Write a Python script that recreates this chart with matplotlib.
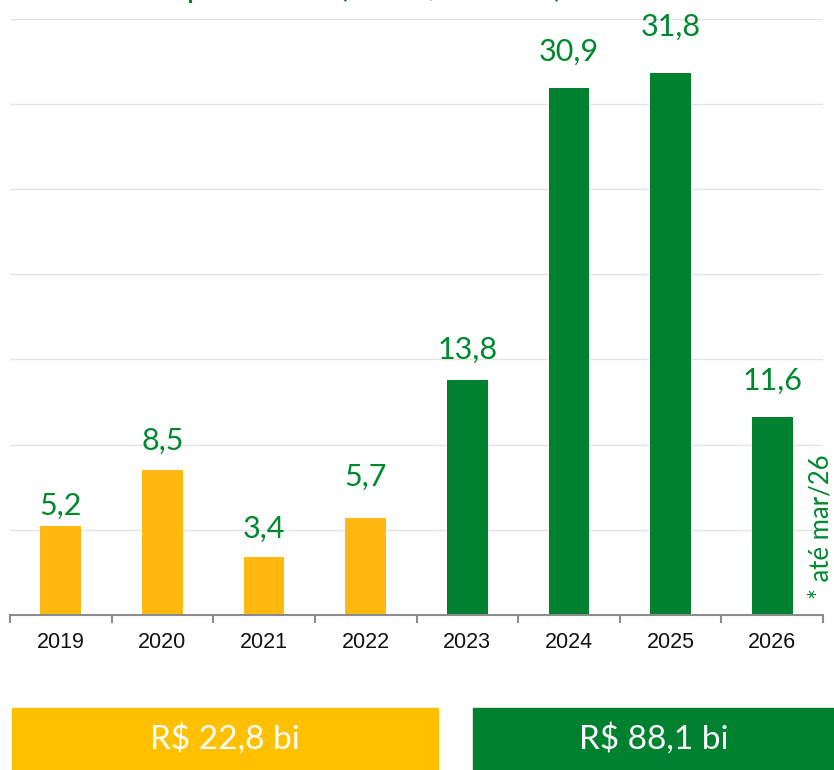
import matplotlib
matplotlib.use("Agg")
import matplotlib.pyplot as plt
from matplotlib.patches import Rectangle
import numpy as np

# ---- data ----
years = ["2019", "2020", "2021", "2022", "2023", "2024", "2025", "2026"]
values = [5.2, 8.5, 3.4, 5.7, 13.8, 30.9, 31.8, 11.6]
period = ["before", "before", "before", "before", "after", "after", "after", "after"]
footnote = "* até mar/26"
title = "Empréstimos (em R$ bilhões)"

# ---- styles ----
YELLOW_BAR = "#FFB80F"
YELLOW_BOX = "#FFC000"
GREEN = "#00812F"
GREEN_TXT = "#00882F"
label_gap_px = [12, 20, 19, 32, 21, 28, 37, 28]

W, H = 834, 770
fig = plt.figure(figsize=(W / 100, H / 100), dpi=100)
ax = fig.add_axes([10 / W, 155 / H, 813 / W, (615 - 18.6) / H])

x = np.arange(len(years))
colors = [YELLOW_BAR if p == "before" else GREEN for p in period]
ax.bar(x, values, width=0.4, color=colors, zorder=3)

ax.set_xlim(-0.5, len(years) - 0.5)
ax.set_ylim(0, 35)
ax.set_yticks(np.arange(5, 36, 5))
ax.yaxis.grid(True, color="#e3e3e3", lw=1.0, zorder=0)
ax.tick_params(axis="y", length=0, labelleft=False)

ax.set_xticks(x)
ax.set_xticklabels(years, fontsize=15.5, family="Liberation Sans", color="#111111")
ax.set_xticks(np.arange(-0.5, len(years), 1), minor=True)
ax.tick_params(axis="x", which="major", length=0, pad=12)
ax.tick_params(axis="x", which="minor", length=6, width=1.5, color="#8c8c8c", direction="out")

for s in ["top", "left", "right"]:
    ax.spines[s].set_visible(False)
ax.spines["bottom"].set_color("#8c8c8c")
ax.spines["bottom"].set_linewidth(1.5)
ax.spines["bottom"].set_zorder(4)

for xi, v, g in zip(x, values, label_gap_px):
    ax.annotate(f"{v:.1f}".replace(".", ","), (xi, v), xytext=(0, g * 0.72),
                textcoords="offset points", ha="center", va="baseline",
                fontsize=22, family="Lato", color=GREEN_TXT, annotation_clip=False)

# footnote (rotated)
fig.text(821 / W, 1 - 527 / H, footnote, rotation=90, ha="center", va="center",
         fontsize=18.5, family="Lato", color=GREEN_TXT)

# title: cut off at the top edge, as in the reference (only descenders visible)
fig.text(140 / W, 1 + 3 / H, title, ha="left", va="baseline",
         fontsize=24, family="Lato", color=GREEN_TXT)

# totals boxes
tot_before = sum(v for v, p in zip(values, period) if p == "before")
tot_after = sum(v for v, p in zip(values, period) if p == "after")
box_y0, box_h = 0, 62 / H
fig.patches.append(Rectangle((12 / W, box_y0), 426 / W, box_h, transform=fig.transFigure,
                             color=YELLOW_BOX, zorder=0))
fig.patches.append(Rectangle((473 / W, box_y0), 361 / W, box_h, transform=fig.transFigure,
                             color=GREEN, zorder=0))
fig.text(225 / W, box_h / 2, f"R$ {tot_before:.1f} bi".replace(".", ","), ha="center",
         va="center", fontsize=24, family="Lato", color="white")
fig.text(654 / W, box_h / 2, f"R$ {tot_after:.1f} bi".replace(".", ","), ha="center",
         va="center", fontsize=24, family="Lato", color="white")

fig.savefig("out.png", dpi=100)
